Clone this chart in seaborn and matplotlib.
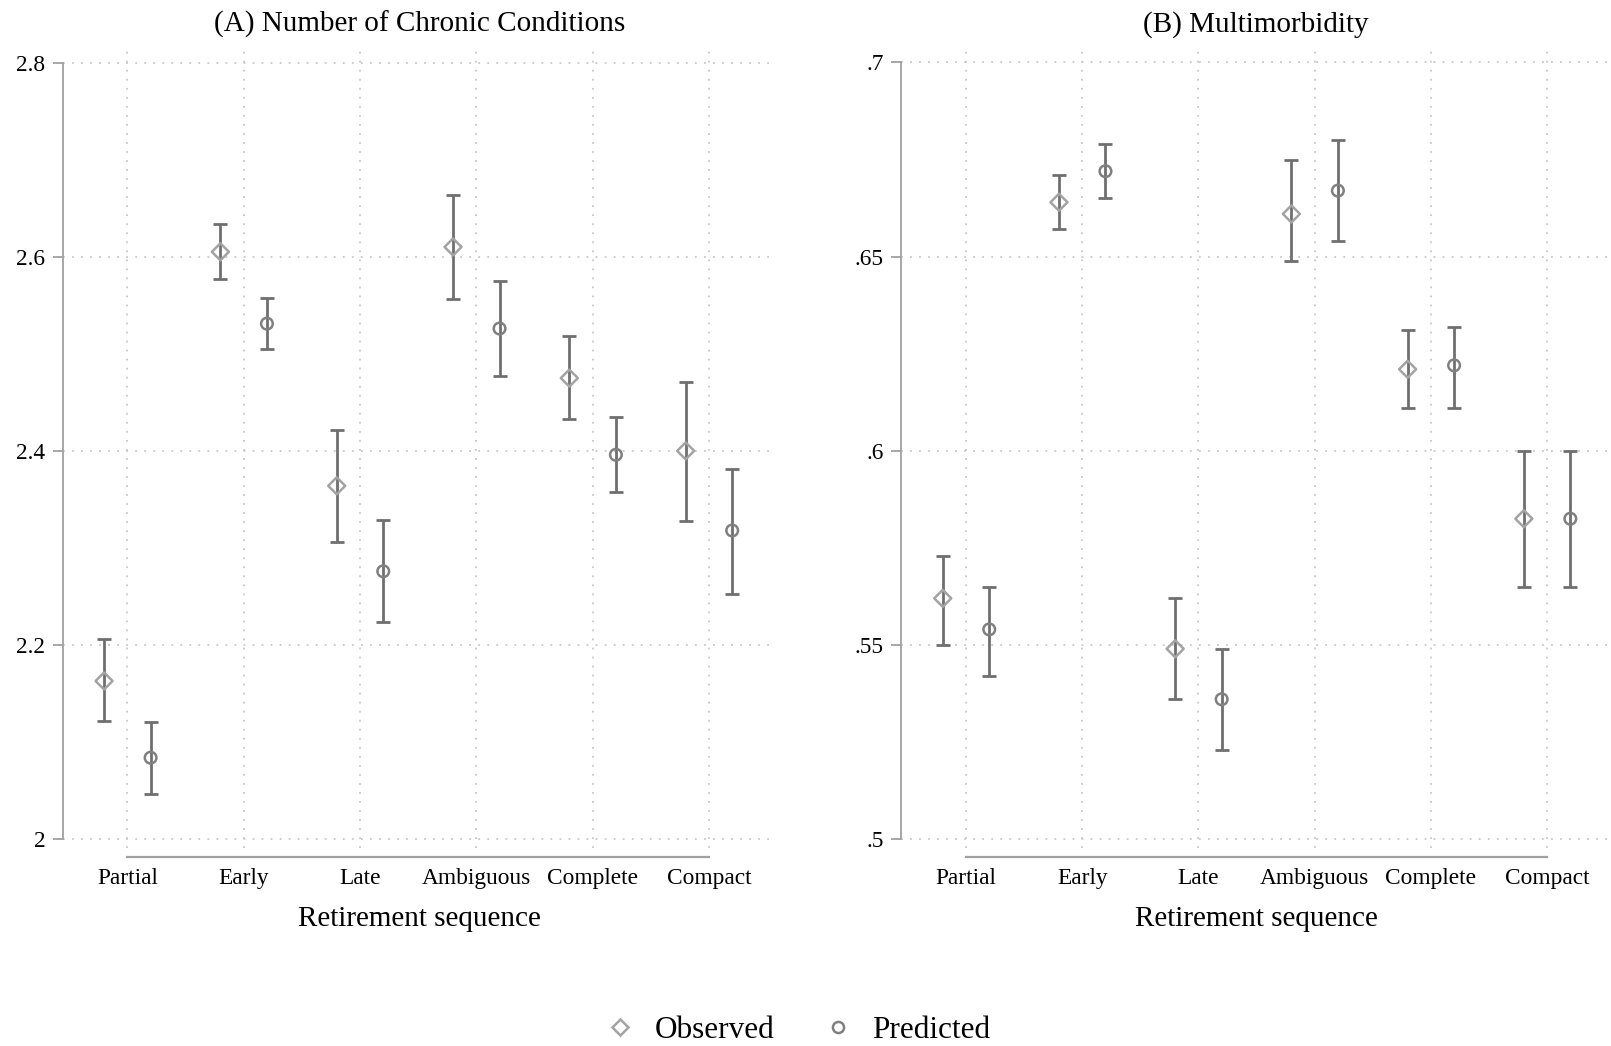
import numpy as np
import pandas as pd
import seaborn as sns
import matplotlib.pyplot as plt
from matplotlib.lines import Line2D

# categories and values
sequences = ['Partial', 'Early', 'Late', 'Ambiguous', 'Complete', 'Compact']

# (A) number of chronic conditions
chronic_obs = [2.163, 2.605, 2.364, 2.610, 2.475, 2.400]
chronic_obs_lo = [2.122, 2.577, 2.306, 2.556, 2.433, 2.328]
chronic_obs_hi = [2.206, 2.634, 2.422, 2.664, 2.518, 2.471]
chronic_pred = [2.084, 2.531, 2.276, 2.526, 2.396, 2.318]
chronic_pred_lo = [2.047, 2.505, 2.224, 2.477, 2.358, 2.253]
chronic_pred_hi = [2.121, 2.557, 2.329, 2.575, 2.435, 2.381]

# (B) multimorbidity
multi_obs = [0.562, 0.664, 0.549, 0.661, 0.621, 0.5825]
multi_obs_lo = [0.550, 0.657, 0.536, 0.649, 0.611, 0.565]
multi_obs_hi = [0.573, 0.671, 0.562, 0.675, 0.631, 0.600]
multi_pred = [0.554, 0.672, 0.536, 0.667, 0.622, 0.5825]
multi_pred_lo = [0.542, 0.665, 0.523, 0.654, 0.611, 0.565]
multi_pred_hi = [0.565, 0.679, 0.549, 0.680, 0.632, 0.600]

chronic_ticks = [2.0, 2.2, 2.4, 2.6, 2.8]
chronic_ticklabels = ['2', '2.2', '2.4', '2.6', '2.8']
multi_ticks = [0.5, 0.55, 0.6, 0.65, 0.7]
multi_ticklabels = ['.5', '.55', '.6', '.65', '.7']


def make_df(obs, obs_lo, obs_hi, pred, pred_lo, pred_hi):
    rows = []
    for i, s in enumerate(sequences):
        rows.append([s, i, 'Observed', obs[i], obs_lo[i], obs_hi[i]])
        rows.append([s, i, 'Predicted', pred[i], pred_lo[i], pred_hi[i]])
    df = pd.DataFrame(rows, columns=['sequence', 'idx', 'type', 'est', 'lo', 'hi'])
    df['xpos'] = df['idx'] + np.where(df['type'] == 'Observed', -0.2, 0.2)
    return df


sns.set_theme(style='white')
plt.rcParams['font.family'] = ['Liberation Serif', 'DejaVu Serif']
plt.rcParams['text.color'] = 'black'
plt.rcParams['axes.labelcolor'] = 'black'

bar_col = '#6f6f6f'
obs_col = '#a3a3a3'
pred_col = '#808080'
axis_col = '#a0a0a0'
grid_col = '#c8c8c8'

fig = plt.figure(figsize=(16.11, 10.46), dpi=100)
ax1 = fig.add_axes([0.0389, 0.1893, 0.4426, 0.7658])
ax2 = fig.add_axes([0.5593, 0.1893, 0.4407, 0.7658])

panels = [
    (ax1, make_df(chronic_obs, chronic_obs_lo, chronic_obs_hi,
                  chronic_pred, chronic_pred_lo, chronic_pred_hi),
     '(A) Number of Chronic Conditions', chronic_ticks, chronic_ticklabels,
     (1.991, 2.816), (-0.556, 5.574)),
    (ax2, make_df(multi_obs, multi_obs_lo, multi_obs_hi,
                  multi_pred, multi_pred_lo, multi_pred_hi),
     '(B) Multimorbidity', multi_ticks, multi_ticklabels,
     (0.4977, 0.704), (-0.559, 5.55)),
]

for ax, df, title, yt, ytl, ylim, xlim in panels:
    # confidence intervals
    ax.errorbar(df['xpos'], df['est'],
                yerr=[df['est'] - df['lo'], df['hi'] - df['est']],
                fmt='none', ecolor=bar_col, elinewidth=2.0,
                capsize=4.8, capthick=2.0, zorder=2)
    # point estimates
    obs = df[df['type'] == 'Observed']
    pred = df[df['type'] == 'Predicted']
    sns.scatterplot(data=obs, x='xpos', y='est', marker='D', s=75,
                    color=obs_col, facecolor='none', edgecolor=obs_col,
                    linewidth=1.8, ax=ax, zorder=3)
    sns.scatterplot(data=pred, x='xpos', y='est', marker='o', s=70,
                    color=pred_col, facecolor='none', edgecolor=pred_col,
                    linewidth=1.8, ax=ax, zorder=3)

    ax.set(xlim=xlim, ylim=ylim)
    ax.set_xticks(range(len(sequences)))
    ax.set_xticklabels(sequences)
    ax.set_yticks(yt)
    ax.set_yticklabels(ytl)
    ax.set_xlabel('Retirement sequence', fontsize=21, labelpad=12,
                  color='black')
    ax.set_ylabel('')
    ax.set_title(title, fontsize=21, pad=11, color='black')

    ax.grid(True, which='major', axis='both', linestyle=(0, (1, 4)),
            color=grid_col, linewidth=1.3)
    ax.set_axisbelow(True)

    for side in ['top', 'right']:
        ax.spines[side].set_visible(False)
    ax.spines['left'].set_bounds(yt[0], yt[-1])
    ax.spines['left'].set_color(axis_col)
    ax.spines['left'].set_linewidth(1.3)
    ax.spines['bottom'].set_bounds(0, len(sequences) - 1)
    ax.spines['bottom'].set_position(('outward', 6.5))
    ax.spines['bottom'].set_color(axis_col)
    ax.spines['bottom'].set_linewidth(1.6)

    ax.tick_params(axis='y', length=7, width=1.3, color=axis_col,
                   pad=5.5, labelsize=16.8, labelcolor='black', left=True)
    ax.tick_params(axis='x', length=0, pad=8, labelsize=16.8,
                   labelcolor='black')

handles = [
    Line2D([], [], linestyle='none', marker='D', markersize=8.5,
           markerfacecolor='none', markeredgecolor=obs_col,
           markeredgewidth=1.8, label='Observed'),
    Line2D([], [], linestyle='none', marker='o', markersize=8,
           markerfacecolor='none', markeredgecolor=pred_col,
           markeredgewidth=1.8, label='Predicted'),
]
fig.legend(handles=handles, loc='center', bbox_to_anchor=(0.495, 0.015),
           ncol=2, frameon=False, fontsize=22.5, handlelength=1.0,
           handletextpad=0.6, columnspacing=1.55, labelcolor='black')

fig.savefig('out.png', dpi=100)
